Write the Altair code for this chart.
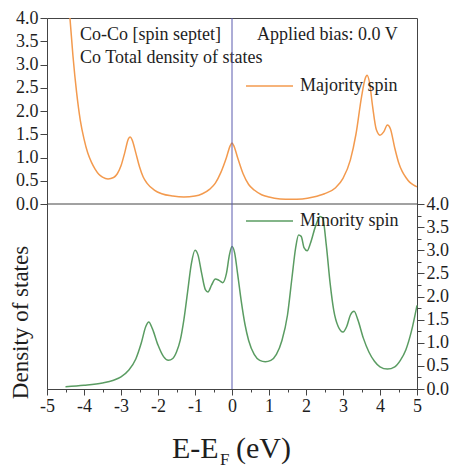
import altair as alt
import pandas as pd

# ---------------- data ----------------
maj_e = [-4.45, -4.38, -4.3, -4.2, -4.1, -4.0, -3.9, -3.8, -3.7, -3.6, -3.5, -3.35, -3.2, -3.1,
         -3.0, -2.9, -2.8, -2.75, -2.7, -2.6, -2.5, -2.4, -2.3, -2.1, -1.9, -1.6, -1.3, -1.0,
         -0.8, -0.6, -0.45, -0.3, -0.15, -0.05, 0.0, 0.05, 0.15, 0.3, 0.45, 0.6, 0.8, 1.0, 1.3,
         1.6, 1.9, 2.2, 2.5, 2.8, 3.0, 3.2, 3.35, 3.5, 3.6, 3.65, 3.72, 3.8, 3.9, 4.0, 4.1, 4.2,
         4.28, 4.4, 4.5, 4.6, 4.7, 4.8, 4.9, 5.0]
maj_v = [4.6, 4.0, 3.2, 2.4, 1.8, 1.4, 1.1, 0.9, 0.75, 0.64, 0.58, 0.54, 0.57, 0.65,
         0.82, 1.1, 1.4, 1.44, 1.38, 1.1, 0.8, 0.58, 0.45, 0.3, 0.22, 0.17, 0.15, 0.17,
         0.22, 0.32, 0.45, 0.68, 1.0, 1.25, 1.31, 1.25, 1.0, 0.65, 0.42, 0.3, 0.2, 0.15, 0.11,
         0.1, 0.11, 0.15, 0.22, 0.35, 0.55, 0.95, 1.5, 2.3, 2.7, 2.77, 2.6, 2.1, 1.6, 1.48, 1.55, 1.7,
         1.62, 1.2, 0.9, 0.7, 0.57, 0.47, 0.41, 0.37]

min_e = [-4.5, -4.0, -3.5, -3.2, -3.0, -2.8, -2.6, -2.45, -2.33, -2.25, -2.15, -2.0, -1.85,
         -1.72, -1.6, -1.5, -1.4, -1.3, -1.2, -1.1, -1.0, -0.92, -0.82, -0.72, -0.65, -0.55,
         -0.45, -0.35, -0.25, -0.15, -0.07, 0.0, 0.07, 0.15, 0.25, 0.35, 0.45, 0.6, 0.75, 0.9,
         1.05, 1.2, 1.35, 1.5, 1.62, 1.72, 1.8, 1.87, 1.95, 2.03, 2.12, 2.25, 2.38, 2.45, 2.55,
         2.65, 2.75, 2.87, 3.0, 3.1, 3.2, 3.3, 3.4, 3.55, 3.7, 3.85, 4.0, 4.2, 4.4, 4.55, 4.7,
         4.85, 5.0]
min_v = [0.05, 0.08, 0.13, 0.19, 0.26, 0.4, 0.65, 1.0, 1.35, 1.45, 1.3, 0.95, 0.7,
         0.62, 0.66, 0.8, 1.05, 1.5, 2.1, 2.7, 3.0, 2.9, 2.5, 2.15, 2.1, 2.25,
         2.38, 2.35, 2.3, 2.5, 2.9, 3.08, 2.95, 2.5, 1.9, 1.4, 1.05, 0.75, 0.62, 0.59,
         0.62, 0.75, 1.05, 1.6, 2.4, 3.05, 3.33, 3.3, 3.05, 2.99, 3.15, 3.5, 3.73, 3.7, 3.1,
         2.3, 1.7, 1.35, 1.23, 1.35, 1.6, 1.68, 1.5, 1.1, 0.8, 0.6, 0.48, 0.43, 0.48, 0.62, 0.85,
         1.25, 1.81]

maj_name = "Majority spin"
min_name = "Minority spin"
x_major = list(range(-5, 6))
x_minor = [k * 0.5 for k in range(-10, 11)]
y_ticks = [k * 0.25 for k in range(0, 17)]

# ---------------- styling ----------------
FONT = "Liberation Serif"
ORANGE = "#F39A4E"
GREEN = "#5A9C62"
BLUE = "#5A5AAE"
FRAME = "#444444"
TXT = "#1e1e1e"
W, H, H_TOP = 370, 371, 186

maj = pd.DataFrame({"E": maj_e, "DOS": maj_v, "spin": maj_name})
mino = pd.DataFrame({"E": min_e, "DOS": min_v, "spin": min_name})
one = alt.Data(values=[{}])

xscale = alt.Scale(domain=[-5, 5], nice=False, zero=False)
# labelled integer ticks
x_axis_major = alt.Axis(
    values=x_major, orient="bottom", grid=False, domain=False, title=None,
    labelExpr="datum.value + ''", tickSize=6,
    tickColor=FRAME, labelFont=FONT, labelFontSize=18, labelColor=TXT,
    labelPadding=2, labelFlush=False, labelOverlap=False, labelBound=False,
)
# short minor ticks every 0.5
x_axis_minor = alt.Axis(
    values=x_minor, orient="bottom", grid=False, domain=False, title=None,
    labels=False, tickSize=3, tickColor=FRAME,
)


def y_axis(orient, **kw):
    return alt.Axis(
        values=y_ticks, orient=orient, grid=False, domain=False,
        labelExpr="datum.value % 0.5 == 0 ? format(datum.value, '.1f') : ''",
        tickSize={"condition": {"test": "datum.value % 0.5 == 0", "value": 7}, "value": 4},
        tickColor=FRAME, labelFont=FONT, labelFontSize=18, labelColor=TXT,
        labelPadding=2, labelFlush=False, labelOverlap=False, labelBound=False, **kw,
    )


def legend(y):
    return alt.Legend(
        orient="none", legendX=198, legendY=y, symbolType="stroke", symbolSize=2209,
        symbolStrokeWidth=1.5, labelFont=FONT, labelFontSize=18, labelColor=TXT,
        labelOffset=6, padding=0,
    )


top_line = alt.Chart(maj).mark_line(clip=True, interpolate="monotone", strokeWidth=1.5).encode(
    x=alt.X("E:Q", scale=xscale, axis=x_axis_major),
    y=alt.Y("DOS:Q", scale=alt.Scale(domain=[0, 4], range=[H_TOP, 0], nice=False, zero=False),
            axis=y_axis("left", title="Density of states", titleFont=FONT, titleFontSize=23,
                        titleFontWeight="normal", titleColor=TXT, titleX=-20, titleY=304,
                        titleAngle=270, titleAlign="center", titleBaseline="alphabetic")),
    color=alt.Color("spin:N", title=None, scale=alt.Scale(domain=[maj_name], range=[ORANGE]),
                    legend=legend(67 - 23.5)),
)
mid_rule = alt.Chart(one).mark_rule(color=FRAME, strokeWidth=1).encode(y=alt.datum(0))


def note(text, x, y, size=18, align="left"):
    return alt.Chart(one).mark_text(
        text=text, font=FONT, fontSize=size, color=TXT, align=align, baseline="alphabetic"
    ).encode(x=alt.value(x), y=alt.value(y))


top = alt.layer(
    top_line, mid_rule,
    note("Co-Co [spin septet]", 33, 22),
    note("Applied bias: 0.0 V", 210, 22),
    note("Co Total density of states", 33, 45),
)

bottom_line = alt.Chart(mino).mark_line(interpolate="monotone", strokeWidth=1.5).encode(
    x=alt.X("E:Q", scale=xscale, axis=x_axis_minor),
    y=alt.Y("DOS:Q", scale=alt.Scale(domain=[0, 4], range=[H, H_TOP], nice=False, zero=False),
            axis=y_axis("right", title=None)),
    color=alt.Color("spin:N", title=None, scale=alt.Scale(domain=[min_name], range=[GREEN]),
                    legend=legend(202 - 23.5)),
)
bottom = alt.layer(
    bottom_line,
    note("E-E", 125, 440, size=30),
    note("F", 173, 447, size=17),
    note("(eV)", 189, 440, size=30),
)

vrule = alt.Chart(one).mark_rule(color=BLUE, strokeWidth=1).encode(
    x=alt.X(datum=0, axis=None)
)

chart = alt.layer(top, bottom, vrule).resolve_scale(
    y="independent", color="independent"
).resolve_axis(
    x="independent"
).properties(
    width=W, height=H,
    padding={"left": 47, "top": 18, "right": 46, "bottom": 81},
    autosize=alt.AutoSizeParams(type="none"),
    background="white",
).configure_view(
    stroke=FRAME, strokeWidth=1
)

chart.save("out.html", embed_options={"renderer": "svg", "actions": False})
